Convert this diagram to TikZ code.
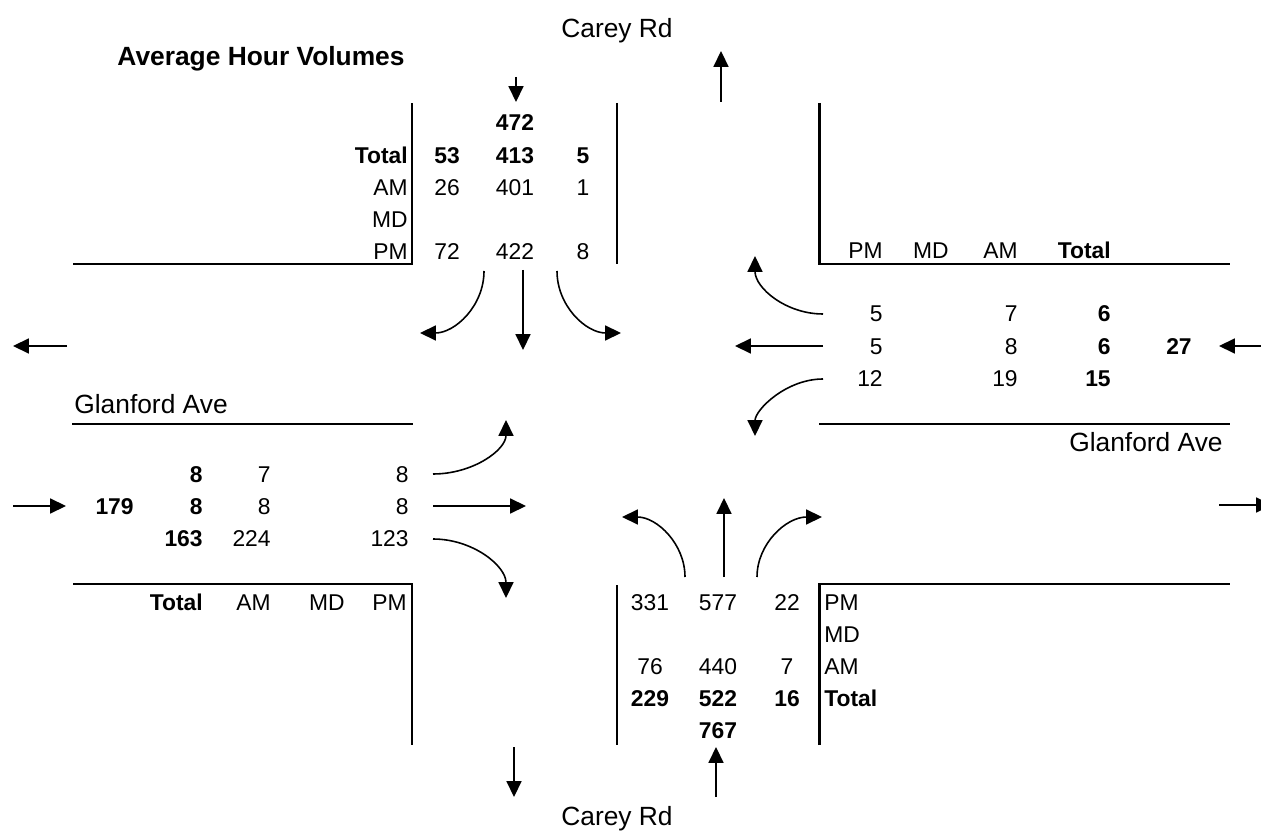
\documentclass[tikz,border=0pt]{standalone}
\usepackage{fontspec}
\setmainfont{Liberation Sans}
\usetikzlibrary{arrows.meta}
\begin{document}
\begin{tikzpicture}[x=0.02cm,y=-0.02cm,
  heavy/.style={line width=1.7pt, line join=miter},
  curb/.style={line width=0.9pt},
  arr/.style={line width=0.9pt, -{Triangle[length=9pt,width=8.5pt]}},
  num/.style={inner sep=0pt, text height=9.3pt, text depth=0pt, font=\fontsize{13}{15}\selectfont},
  bnum/.style={num, font=\fontsize{13}{15}\selectfont\bfseries},
  road/.style={inner sep=0pt, text height=10.7pt, text depth=0pt, font=\fontsize{15}{18}\selectfont},
]
\useasboundingbox (0,0) rectangle (1261,837);

% ---------- road edges ----------
\draw[heavy] (73,264) -- (412,264) -- (412,103);
\draw[heavy] (819,103) -- (819,264) -- (1230,264);
\draw[heavy] (73,584) -- (412,584) -- (412,745);
\draw[heavy] (819,745) -- (819,584) -- (1230,584);
\draw[curb] (617,103) -- (617,264);
\draw[curb] (617,585) -- (617,745);
\draw[curb] (72,424) -- (413,424);
\draw[curb] (819,424) -- (1230,424);

% ---------- titles ----------
\node[road] (carey-n) at (617,28) {Carey Rd};
\node[road] (carey-s) at (617,816) {Carey Rd};
\node[road, font=\fontsize{15}{18}\selectfont\bfseries] (title) at (261,56) {Average Hour Volumes};
\node[road, anchor=west] (glan-w) at (74,404) {Glanford Ave};
\node[road, anchor=east] (glan-e) at (1223,442) {Glanford Ave};

% ---------- north approach ----------
\node[bnum] (n-sum) at (515,122) {472};
\node[bnum, anchor=east] (n-lt) at (408,155) {Total};
\node[num, anchor=east] (n-la) at (408,187) {AM};
\node[num, anchor=east] (n-lm) at (408,219) {MD};
\node[num, anchor=east] (n-lp) at (408,251) {PM};
\node[bnum] (n-t1) at (447,155) {53};
\node[bnum] (n-t2) at (515,155) {413};
\node[bnum] (n-t3) at (583,155) {5};
\node[num] (n-a1) at (447,187) {26};
\node[num] (n-a2) at (515,187) {401};
\node[num] (n-a3) at (583,187) {1};
\node[num] (n-p1) at (447,251) {72};
\node[num] (n-p2) at (515,251) {422};
\node[num] (n-p3) at (583,251) {8};

% ---------- east approach ----------
\node[num, anchor=east] (e-hp) at (883,250) {PM};
\node[num, anchor=east] (e-hm) at (949,250) {MD};
\node[num, anchor=east] (e-ha) at (1018,250) {AM};
\node[bnum, anchor=east] (e-ht) at (1111,250) {Total};
\node[num, anchor=east] (e-p1) at (883,313) {5};
\node[num, anchor=east] (e-a1) at (1018,313) {7};
\node[bnum, anchor=east] (e-t1) at (1111,313) {6};
\node[num, anchor=east] (e-p2) at (883,346) {5};
\node[num, anchor=east] (e-a2) at (1018,346) {8};
\node[bnum, anchor=east] (e-t2) at (1111,346) {6};
\node[bnum, anchor=east] (e-sum) at (1192,346) {27};
\node[num, anchor=east] (e-p3) at (883,378) {12};
\node[num, anchor=east] (e-a3) at (1018,378) {19};
\node[bnum, anchor=east] (e-t3) at (1111,378) {15};

% ---------- west approach ----------
\node[bnum, anchor=east] (w-t1) at (203,474) {8};
\node[num, anchor=east] (w-a1) at (271,474) {7};
\node[num, anchor=east] (w-p1) at (409,474) {8};
\node[bnum, anchor=east] (w-sum) at (134,506) {179};
\node[bnum, anchor=east] (w-t2) at (203,506) {8};
\node[num, anchor=east] (w-a2) at (271,506) {8};
\node[num, anchor=east] (w-p2) at (409,506) {8};
\node[bnum, anchor=east] (w-t3) at (203,538) {163};
\node[num, anchor=east] (w-a3) at (271,538) {224};
\node[num, anchor=east] (w-p3) at (409,538) {123};
\node[bnum, anchor=east] (w-ht) at (203,602) {Total};
\node[num, anchor=east] (w-ha) at (271,602) {AM};
\node[num, anchor=east] (w-hm) at (345,602) {MD};
\node[num, anchor=east] (w-hp) at (407,602) {PM};

% ---------- south approach ----------
\node[num] (s-p1) at (650,602) {331};
\node[num] (s-p2) at (718,602) {577};
\node[num] (s-p3) at (787,602) {22};
\node[num] (s-a1) at (650,666) {76};
\node[num] (s-a2) at (718,666) {440};
\node[num] (s-a3) at (787,666) {7};
\node[bnum] (s-t1) at (650,698) {229};
\node[bnum] (s-t2) at (718,698) {522};
\node[bnum] (s-t3) at (787,698) {16};
\node[bnum] (s-sum) at (718,730) {767};
\node[num, anchor=west] (s-lp) at (824,602) {PM};
\node[num, anchor=west] (s-lm) at (824,634) {MD};
\node[num, anchor=west] (s-la) at (824,666) {AM};
\node[bnum, anchor=west] (s-lt) at (824,698) {Total};

% ---------- arrow end points ----------
\coordinate (nin0) at (516,77);   \coordinate (nin1) at (516,102);
\coordinate (nout0) at (721,102); \coordinate (nout1) at (721,51);
\coordinate (nl0) at (484,271);   \coordinate (nl1) at (420,333);
\coordinate (nt0) at (523,270);   \coordinate (nt1) at (523,350);
\coordinate (nr0) at (557,271);   \coordinate (nr1) at (621,333);

\coordinate (sin0) at (716,797);  \coordinate (sin1) at (716,747);
\coordinate (sout0) at (514,747); \coordinate (sout1) at (514,797);
\coordinate (sl0) at (685,577);   \coordinate (sl1) at (622,517);
\coordinate (st0) at (724,577);   \coordinate (st1) at (724,498);
\coordinate (sr0) at (757,577);   \coordinate (sr1) at (822,517);

\coordinate (ein0) at (1262,346); \coordinate (ein1) at (1219,346);
\coordinate (eout0) at (67,346);  \coordinate (eout1) at (13,346);
\coordinate (el0) at (823,314);   \coordinate (el1) at (755,256);
\coordinate (et0) at (823,346);   \coordinate (et1) at (735,346);
\coordinate (er0) at (823,379);   \coordinate (er1) at (755,436);

\coordinate (win0) at (13,506);   \coordinate (win1) at (66,506);
\coordinate (wout0) at (1219,505);\coordinate (wout1) at (1272,505);
\coordinate (wl0) at (433,474);   \coordinate (wl1) at (506,420);
\coordinate (wt0) at (433,506);   \coordinate (wt1) at (526,506);
\coordinate (wr0) at (433,539);   \coordinate (wr1) at (506,598);

% ---------- arrows ----------
\draw[arr] (nin0) -- (nin1);
\draw[arr] (nout0) -- (nout1);
\draw[arr] (nl0) .. controls (484,306) and (455,333) .. (nl1);
\draw[arr] (nt0) -- (nt1);
\draw[arr] (nr0) .. controls (557,306) and (586,333) .. (nr1);

\draw[arr] (sin0) -- (sin1);
\draw[arr] (sout0) -- (sout1);
\draw[arr] (sl0) .. controls (685,544) and (657,517) .. (sl1);
\draw[arr] (st0) -- (st1);
\draw[arr] (sr0) .. controls (757,544) and (786,517) .. (sr1);

\draw[arr] (ein0) -- (ein1);
\draw[arr] (eout0) -- (eout1);
\draw[arr] (el0) .. controls (786,314) and (755,288) .. (el1);
\draw[arr] (et0) -- (et1);
\draw[arr] (er0) .. controls (786,379) and (755,410) .. (er1);

\draw[arr] (win0) -- (win1);
\draw[arr] (wout0) -- (wout1);
\draw[arr] (wl0) .. controls (473,474) and (506,450) .. (wl1);
\draw[arr] (wt0) -- (wt1);
\draw[arr] (wr0) .. controls (473,539) and (506,566) .. (wr1);
\end{tikzpicture}
\end{document}
